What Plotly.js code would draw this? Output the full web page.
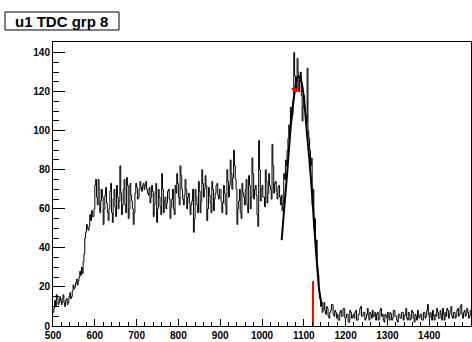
<!DOCTYPE html>
<html>
<head>
<meta charset="utf-8">
<script src="https://cdn.plot.ly/plotly-3.0.1.min.js"></script>
<style>html,body{margin:0;padding:0;background:#fff;}#chart{width:472px;height:342px;}</style>
</head>
<body>
<div id="chart"></div>
<script>
// Histogram: bins of width 2 from 500 to 1500
const binStart = 500;
const binWidth = 2;
const counts = [
  7, 9, 13, 10, 16, 14, 11, 12, 15, 13, 11, 14, 16, 12, 10, 13, 14, 11, 12, 15,
  17, 14, 15, 18, 21, 19, 20, 22, 24, 21, 23, 25, 28, 26, 30, 27, 33, 37, 45, 48,
  52, 50, 49, 51, 57, 54, 59, 56, 56, 60, 72, 75, 66, 62, 75, 70, 58, 64, 70, 66,
  52, 60, 67, 71, 63, 58, 54, 60, 69, 73, 58, 53, 65, 70, 61, 56, 72, 66, 60, 64,
  82, 68, 57, 62, 70, 75, 62, 58, 76, 72, 55, 60, 73, 67, 64, 60, 52, 58, 68, 73,
  71, 65, 66, 70, 74, 71, 69, 72, 73, 70, 72, 74, 70, 68, 67, 71, 63, 66, 72, 69,
  56, 62, 68, 73, 53, 60, 70, 66, 61, 57, 78, 70, 58, 64, 66, 60, 63, 69, 70, 65,
  55, 61, 65, 70, 60, 57, 72, 68, 78, 73, 66, 62, 82, 77, 70, 65, 62, 67, 75, 70,
  60, 66, 68, 63, 57, 62, 64, 70, 48, 55, 70, 66, 62, 58, 74, 69, 58, 64, 80, 73,
  66, 70, 77, 72, 54, 60, 71, 67, 63, 58, 74, 70, 59, 65, 68, 72, 73, 67, 65, 70,
  70, 64, 58, 63, 72, 68, 62, 57, 80, 74, 66, 72, 85, 78, 70, 76, 90, 82, 75, 70,
  52, 60, 64, 70, 58, 55, 73, 68, 66, 62, 70, 75, 62, 58, 77, 72, 60, 66, 86, 78,
  65, 70, 72, 67, 57, 51, 95, 80, 64, 70, 72, 66, 66, 61, 80, 74, 63, 68, 78, 72,
  70, 65, 93, 82, 68, 73, 74, 69, 65, 71, 72, 66, 62, 67, 59, 63, 78, 75, 85, 82,
  90, 96, 103, 99, 112, 106, 108, 115, 140, 128, 125, 120, 137, 130, 120, 126, 130, 118, 105, 112,
  118, 110, 108, 104, 132, 100, 96, 90, 82, 86, 62, 70, 50, 55, 40, 44, 30, 26, 18, 14,
  10, 12, 7, 9, 12, 8, 6, 10, 9, 5, 4, 7, 8, 11, 11, 6, 5, 8, 7, 4,
  6, 3, 3, 7, 8, 5, 5, 9, 9, 4, 4, 6, 6, 2, 2, 8, 7, 4, 5, 6,
  4, 7, 8, 3, 3, 6, 6, 9, 10, 5, 5, 7, 7, 3, 4, 6, 9, 5, 3, 7,
  6, 4, 8, 5, 5, 7, 3, 6, 7, 3, 4, 8, 9, 5, 6, 3, 2, 6, 5, 4,
  7, 5, 3, 7, 6, 3, 4, 8, 8, 5, 5, 3, 2, 6, 6, 4, 4, 7, 7, 3,
  5, 6, 9, 4, 3, 7, 6, 3, 4, 8, 7, 4, 2, 6, 5, 3, 8, 5, 4, 6,
  6, 3, 3, 7, 7, 4, 5, 8, 11, 6, 4, 7, 6, 3, 8, 5, 3, 6, 5, 9,
  7, 4, 4, 8, 6, 3, 9, 6, 3, 7, 5, 9, 8, 4, 6, 8, 10, 5, 4, 7,
  7, 4, 5, 8, 9, 5, 6, 10, 11, 6, 4, 7, 8, 5, 6, 9, 7, 4, 5, 8
];

// Fit curve
const fitX = [1047, 1053, 1059, 1065, 1071, 1079, 1086, 1093, 1100, 1107, 1113, 1119, 1124, 1129, 1133, 1137, 1143];
const fitY = [44, 60, 75, 92, 107, 121, 128, 126, 117, 100, 86, 70, 54, 39, 28, 18, 11];

// Red marker and red vertical line
const markX = [1079];
const markY = [121];
const lineX = [1122, 1122];
const lineY = [0, 23];

// Tick labels
const xTickVals = [500, 600, 700, 800, 900, 1000, 1100, 1200, 1300, 1400];
const yTickVals = [0, 20, 40, 60, 80, 100, 120, 140];

const titleText = "u1 TDC grp 8";

// build step edges
const hx = [], hy = [];
for (let i = 0; i < counts.length; i++) {
  hx.push(binStart + i * binWidth);
  hy.push(counts[i]);
}
hx.push(binStart + counts.length * binWidth);
hy.push(counts[counts.length - 1]);

const tickFont = {family: "Liberation Sans, Arial, sans-serif", size: 10, color: "#000", weight: 700};
const bold = v => "<b>" + v + "</b>";

const data = [
  {x: hx, y: hy, type: "scatter", mode: "lines", line: {shape: "hv", color: "#000", width: 1}, hoverinfo: "skip"},
  {x: fitX, y: fitY, type: "scatter", mode: "lines", line: {shape: "spline", color: "#000", width: 2}, hoverinfo: "skip"},
  {x: lineX, y: lineY, type: "scatter", mode: "lines", line: {color: "#ff0000", width: 2}, hoverinfo: "skip"},
  {x: markX, y: markY, type: "scatter", mode: "markers", marker: {symbol: "triangle-down", color: "#ff0000", size: 7}, hoverinfo: "skip"}
];

const layout = {
  width: 472, height: 342,
  margin: {l: 53, r: 1, t: 42, b: 16},
  paper_bgcolor: "#fff", plot_bgcolor: "#fff",
  showlegend: false,
  xaxis: {
    range: [500, 1500], showgrid: false, zeroline: false,
    showline: true, linecolor: "#000", linewidth: 1, mirror: true,
    ticks: "inside", ticklen: 7, tickcolor: "#000", tickwidth: 1,
    tickmode: "array", tickvals: xTickVals, ticktext: xTickVals.map(bold),
    minor: {tickmode: "linear", tick0: 500, dtick: 20, ticks: "inside", ticklen: 4, tickcolor: "#000", showgrid: false},
    tickfont: tickFont
  },
  yaxis: {
    range: [0, 145.4], showgrid: false, zeroline: false,
    showline: true, linecolor: "#000", linewidth: 1, mirror: true,
    ticks: "inside", ticklen: 12, tickcolor: "#000", tickwidth: 1,
    tickmode: "array", tickvals: yTickVals, ticktext: yTickVals.map(bold),
    minor: {tickmode: "linear", tick0: 0, dtick: 5, ticks: "inside", ticklen: 6, tickcolor: "#000", showgrid: false},
    tickfont: tickFont
  },
  shapes: [
    {type: "rect", xref: "paper", yref: "paper", x0: -0.1148, x1: 0.1579, y0: 1.0423, y1: 1.1056,
     line: {color: "#000", width: 1}, fillcolor: "#fff"}
  ],
  annotations: [
    {text: titleText, xref: "paper", yref: "paper", x: 0.0215, y: 1.0739, xanchor: "center", yanchor: "middle",
     showarrow: false, font: {family: "Liberation Sans, Arial, sans-serif", size: 15, color: "#000", weight: 700}}
  ]
};

Plotly.newPlot("chart", data, layout, {staticPlot: true, displayModeBar: false});
</script>
</body>
</html>
